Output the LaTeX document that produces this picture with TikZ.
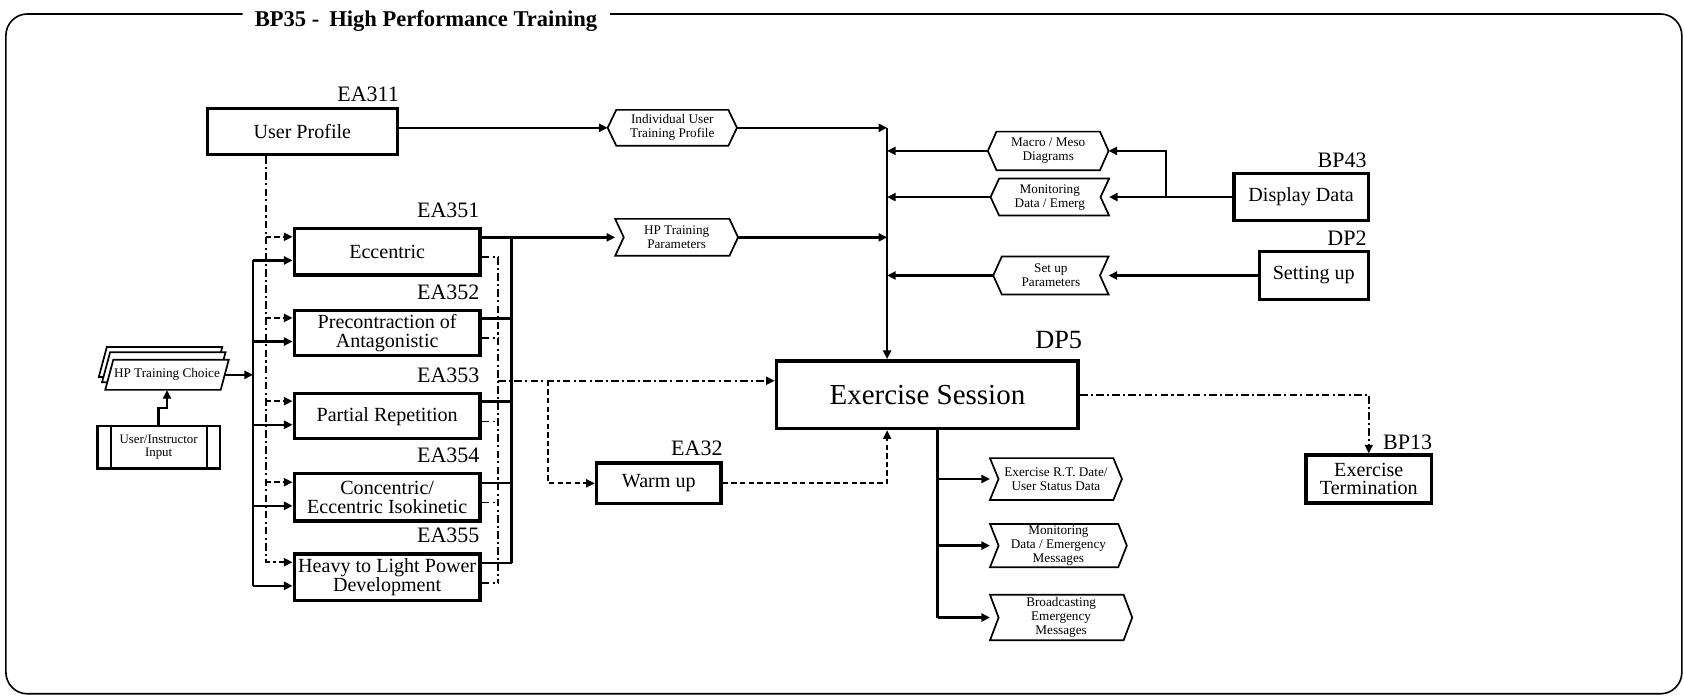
\documentclass[tikz,border=0pt]{standalone}
\usepackage{fontspec}
\setmainfont{Liberation Serif}
\usetikzlibrary{arrows.meta}

% outlines of the data flags, drawn around rectangular text nodes
\newcommand\drawRflag[1]{\draw[outline] (#1.north west) -- ([xshift=-8pt]#1.north east) -- (#1.east) -- ([xshift=-8pt]#1.south east) -- (#1.south west) -- ([xshift=8pt]#1.west) -- cycle;}
\newcommand\drawLflag[1]{\draw[outline] (#1.west) -- ([xshift=8pt]#1.north west) -- (#1.north east) -- ([xshift=-8pt]#1.east) -- (#1.south east) -- ([xshift=8pt]#1.south west) -- cycle;}
\newcommand\drawHex[1]{\draw[outline] (#1.west) -- ([xshift=8pt]#1.north west) -- ([xshift=-8pt]#1.north east) -- (#1.east) -- ([xshift=-8pt]#1.south east) -- ([xshift=8pt]#1.south west) -- cycle;}

\begin{document}
\begin{tikzpicture}[x=1pt,y=-1pt,
  blk/.style={draw, line width=3.2pt, inner sep=0pt, align=center, font=\fontsize{18.7}{17.5}\selectfont},
  tag/.style={inner sep=0pt, anchor=base east, font=\fontsize{20.5}{20.5}\selectfont},
  flag/.style={inner sep=0pt, align=center, font=\fontsize{12.3}{13}\selectfont},
  outline/.style={line width=1.6pt, line join=miter},
  conn/.style={line width=2.2pt},
  tip/.style={-{Triangle[length=8pt,width=7.5pt]}},
  arr/.style={conn, tip},
  dd/.style={line width=1.6pt, dash pattern=on 7pt off 3pt on 2pt off 3pt},
  ddarr/.style={dd, tip},
  dsh/.style={line width=1.7pt, dash pattern=on 5pt off 3pt},
  dsharr/.style={dsh, tip},
]
\useasboundingbox (0,0) rectangle (1568,651);

% frame and title
\node[anchor=base west, inner sep=0pt, font=\bfseries\fontsize{21}{21}\selectfont] (title) at (237,24.8) {BP35 -\hspace{0.45em}High Performance Training};
\draw[line width=1.5pt, rounded corners=20pt] (226,13) -- (5.5,13) -- (5.5,646) -- (1566,646) -- (1566,13) -- (568,13);

% user profile and exercise activities
\node[blk, minimum width=177pt, minimum height=43pt] (up) at (281.5,122.5) {User Profile};
\node[tag] at ([yshift=5pt]up.north east) {EA311};

\node[blk, minimum width=173pt, minimum height=43pt] (ecc) at (360.5,234.5) {Eccentric};
\node[blk, minimum width=173pt, minimum height=42pt] (pre) at (360.5,310) {Precontraction of\\Antagonistic};
\node[blk, minimum width=173pt, minimum height=42pt] (par) at (360.5,387.5) {Partial Repetition};
\node[blk, minimum width=173pt, minimum height=44pt] (con) at (360.5,463) {Concentric/\\Eccentric Isokinetic};
\node[blk, minimum width=173pt, minimum height=43pt] (hea) at (360.5,537.5) {Heavy to Light Power\\Development};
\node[tag] at ([xshift=-2pt,yshift=9pt]ecc.north east) {EA351};
\node[tag] at ([xshift=-2pt,yshift=9pt]pre.north east) {EA352};
\node[tag] at ([xshift=-2pt,yshift=9pt]par.north east) {EA353};
\node[tag] at ([xshift=-2pt,yshift=9pt]con.north east) {EA354};
\node[tag] at ([xshift=-2pt,yshift=9pt]hea.north east) {EA355};

% training choice document stack and user input
\foreach \dx/\dy in {-6/-12,-3/-7,0/0}
  \draw[outline, fill=white, shift={(\dx,\dy)}] (98,363) -- (205.5,363) -- (213,335) -- (105.5,335) -- cycle;
\node[flag, minimum width=115pt, minimum height=28pt] (hpc) at (155.5,349) {HP Training Choice};
\node[draw, line width=2.4pt, minimum width=114pt, minimum height=39.5pt, inner sep=0pt, align=center,
      font=\fontsize{12}{13}\selectfont] (uin) at (147.7,416.3) {User/Instructor\\Input};
\draw[line width=1.8pt] ([xshift=13.5pt]uin.north west) -- ([xshift=13.5pt]uin.south west);
\draw[line width=1.8pt] ([xshift=-13pt]uin.north east) -- ([xshift=-13pt]uin.south east);

% exercise session and its neighbours
\node[blk, line width=3.4pt, minimum width=281pt, minimum height=63pt, font=\fontsize{27}{27}\selectfont] (exs) at (863.5,367.5) {Exercise Session};
\node[tag, font=\fontsize{24.5}{24.5}\selectfont] at ([xshift=2pt,yshift=10pt]exs.north east) {DP5};
\node[blk, minimum width=116pt, minimum height=38pt] (warm) at (613.4,450) {Warm up};
\node[tag] at ([yshift=5pt]warm.north east) {EA32};
\node[blk, minimum width=117pt, minimum height=44.5pt] (term) at (1274.5,446) {Exercise\\Termination};
\node[tag] at ([xshift=-1pt,yshift=4pt]term.north east) {BP13};
\node[blk, minimum width=125pt, minimum height=43.5pt] (disp) at (1211.5,183.5) {Display Data};
\node[tag] at ([xshift=-3pt,yshift=4pt]disp.north east) {BP43};
\node[blk, minimum width=101.5pt, minimum height=44.4pt] (setg) at (1223.25,256.5) {Setting up};
\node[tag] at ([xshift=-3pt,yshift=4pt]setg.north east) {DP2};

% data flags
\node[flag, minimum width=120pt, minimum height=33pt] (iutp) at (626,119) {Individual User\\Training Profile};
\node[flag, minimum width=114pt, minimum height=34pt] (hptp) at (630,221) {HP Training\\Parameters};
\node[flag, minimum width=112pt, minimum height=35.5pt] (macro) at (976,140.5) {Macro / Meso\\Diagrams};
\node[flag, minimum width=110pt, minimum height=34pt] (monit) at (977.5,183.5) {Monitoring\\Data / Emerg};
\node[flag, minimum width=107pt, minimum height=35pt] (setup) at (978.5,256.5) {Set up\\Parameters};
\node[flag, minimum width=122.5pt, minimum height=38.5pt] (out1) at (983.2,446) {Exercise R.T. Date/\\User Status Data};
\node[flag, minimum width=127pt, minimum height=40pt] (out2) at (985.5,508) {Monitoring\\Data / Emergency\\Messages};
\node[flag, minimum width=132pt, minimum height=42pt] (out3) at (988,575) {Broadcasting\\Emergency\\Messages};
\drawHex{iutp}
\drawRflag{hptp}
\drawHex{macro}
\drawLflag{monit}
\drawLflag{setup}
\drawRflag{out1}
\drawRflag{out2}
\drawRflag{out3}

% attachment points on the exercise activities
\foreach \b in {ecc,pre,par,con,hea}{
  \coordinate (\b-in)  at ([yshift=-8pt]\b.west);
  \coordinate (\b-up)  at ([yshift=14pt]\b.west);
  \coordinate (\b-out) at ([yshift=13.5pt]\b.east);
  \coordinate (\b-aux) at ([yshift=-5pt]\b.east);
}
\coordinate (lbus) at (235.6,349);
\coordinate (rbus) at (476.4,221);
\coordinate (dbus) at (464,355);
\coordinate (tbus) at (826,119);
\coordinate (obus) at (873,500);
\coordinate (wsplit) at (510.6,355);
\coordinate (jog) at (151,380);
\coordinate (dsplit) at (1085.4,183.5);
\coordinate (upout) at ([yshift=3.5pt]up.east);
\coordinate (upd) at ([xshift=-34pt]up.south);
\coordinate (hpout) at ([xshift=-3.75pt]hpc.east);
\coordinate (exin) at ([yshift=13pt]exs.west);

% training choice distribution
\draw[arr] (uin.north) |- (jog) -| (hpc.south);
\draw[arr] (hpout) -- (hpout -| lbus);
\draw[conn] (lbus |- ecc-in) -- (lbus |- hea-in);
\foreach \b in {ecc,pre,par,con,hea} \draw[arr] (lbus |- \b-in) -- (\b-in);

% user profile links
\draw[ddarr] (upd) |- (hea-up);
\foreach \b in {ecc,pre,par,con} \draw[dsharr] (upd |- \b-up) -- (\b-up);
\draw[arr] (upout) -- (upout -| iutp.west);

% outputs of the exercise activities
\foreach \b in {ecc,pre,par,con,hea} \draw[conn] (\b-out) -- (\b-out -| rbus);
\draw[conn] (ecc-out -| rbus) -- (hea-out -| rbus);
\draw[arr] (ecc-out -| rbus) -- (ecc-out -| hptp.west);
\foreach \b in {ecc,pre,par,con,hea} \draw[dd] (\b-aux) -- (\b-aux -| dbus);
\draw[dd] (ecc-aux -| dbus) -- (hea-aux -| dbus);
\draw[ddarr] (exin -| dbus) -- (exin);
\draw[dsharr] (exin -| wsplit) |- (warm.west);
\draw[dsharr] (warm.east) -| (tbus |- exs.south);

% inputs of the exercise session
\draw[arr] (iutp.east) -- (tbus);
\draw[arr] (tbus) -- (tbus |- exs.north);
\draw[arr] (hptp.east) -- (hptp.east -| tbus);
\foreach \f in {macro,monit,setup} \draw[arr] (\f.west) -- (\f.west -| tbus);
\draw[arr] (disp.west) -- (monit.east);
\draw[arr] (dsplit) |- (macro.east);
\draw[arr] (setg.west) -- (setup.east);

% outputs of the exercise session
\draw[conn] (obus |- exs.south) -- (obus |- out3.west);
\foreach \o in {out1,out2,out3} \draw[arr] (obus |- \o.west) -- (\o.west);
\draw[ddarr] (exs.east) -| (term.north);
\end{tikzpicture}
\end{document}
